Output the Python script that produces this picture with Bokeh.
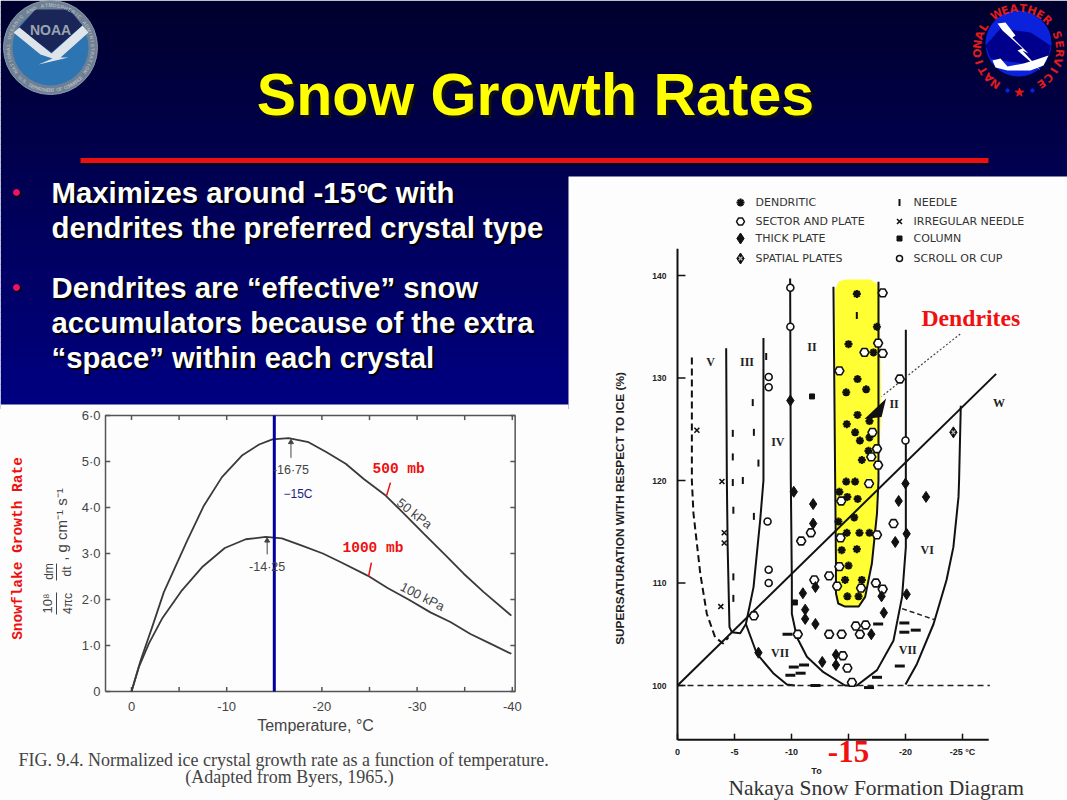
import numpy as np
from bokeh.plotting import figure
from bokeh.models import Range1d
from bokeh.core.properties import value
from bokeh.embed import file_html
from bokeh.resources import INLINE

# ---------- text content ----------
title = "Snow Growth Rates"
bullet_lines = ["Maximizes around -15", "dendrites the preferred crystal type",
                "Dendrites are \u201ceffective\u201d snow",
                "accumulators because of the extra",
                "\u201cspace\u201d within each crystal"]

# ---------- left chart: growth rate against temperature ----------
temp_500 = [0, -0.95, -2.17, -3.4, -5.85, -7.6, -9.5, -11.6, -13.4, -14.8, -16.5, -18.6, -20.5, -22.5, -24.4, -26.7, -28.8, -30.7, -33, -34.9, -37, -39.9]
rate_500 = [0, 0.67, 1.4, 2.16, 3.28, 4.04, 4.66, 5.13, 5.37, 5.48, 5.51, 5.42, 5.2, 4.95, 4.62, 4.26, 3.83, 3.43, 2.96, 2.56, 2.16, 1.65]
temp_1000 = [0, -0.77, -1.82, -3.2, -5.3, -7.4, -9.8, -12, -14.1, -15.8, -17.9, -20.1, -22, -24.8, -26.9, -29.1, -31.4, -33.5, -35.6, -37.7, -39.9]
rate_1000 = [0, 0.53, 1.04, 1.58, 2.2, 2.7, 3.12, 3.31, 3.36, 3.33, 3.17, 3.0, 2.81, 2.52, 2.25, 2.0, 1.72, 1.51, 1.25, 1.04, 0.82]
left_xticks = [0, -5, -10, -15, -20, -25, -30, -35, -40]
left_xlabels = {0: "0", -10: "-10", -20: "-20", -30: "-30", -40: "-40"}
left_yticks = [0, 1, 2, 3, 4, 5, 6]
left_ylabels = ["0", "1\u00b70", "2\u00b70", "3\u00b70", "4\u00b70", "5\u00b70", "6\u00b70"]
marked_temp = -15

# ---------- right chart: Nakaya diagram (temperature, supersaturation) ----------
dendritic = [(-15.73,138.2),(-17.49,135.0),(-15.0,133.3),(-17.19,132.5),(-15.79,129.9),(-16.55,128.9),(-14.8,128.6),
             (-15.79,126.4),(-16.84,125.8),(-14.85,125.5),(-15.58,124.7),(-16.0,123.9),(-16.84,124.2),(-16.75,122.9),
             (-16.17,122.0),(-14.8,119.9),(-15.58,119.9),(-14.2,118.9),(-14.9,118.4),(-15.8,118.2),(-14.12,116.0),
             (-15.5,116.4),(-14.85,114.9),(-15.96,114.9),(-16.84,114.9),(-14.4,113.2),(-15.73,113.3),(-15.0,111.7),
             (-14.7,110.3),(-16.17,110.3),(-14.9,108.7),(-15.88,108.7)]
needle = [(-15.73,136.1),(-6.6,127.6),(-4.85,124.6),(-6.7,124.7),(-4.85,122.3),(-7.1,121.7),(-4.85,119.8),(-5.73,120.0),
          (-7.78,132.1),(-4.9,117.1),(-6.7,116.5),(-4.9,110.6),(-4.9,108.5)]
irregular = [(-1.7,124.9),(-3.9,119.9),(-4.1,114.9),(-4.1,113.9),(-3.8,107.7)]
sector = [(-18.0,138.3),(-17.6,133.4),(-16.4,132.5),(-18.0,132.4),(-14.2,130.7),(-19.5,129.9),(-17.1,124.7),(-17.5,123.1),
          (-17.0,122.3),(-17.6,121.5),(-16.8,119.7),(-14.36,118),(-11.7,114.9),(-10.85,114.1),(-17.5,114.7),(-18.95,115.8),
          (-14.3,114.4),(-14.2,111.6),(-12,110.3),(-13.3,110.7),(-14,109.7),(-17.4,110),(-18,109.4),(-16.1,109.5),(-6.7,106.8),
          (-10.55,105),(-13.3,105),(-14.4,105),(-15.64,105.8),(-16.5,105.9),(-16,105),(-14.5,102.9),(-14.9,101.7),(-15.3,100.3)]
thick = [(-9.9,127.8),(-10.2,118.9),(-19.4,118),(-20,119.7),(-21.8,118.4),(-11.9,117.7),(-11.9,115.8),(-20.1,114.8),(-19.1,114),
         (-12.1,109.6),(-11,109),(-11.2,107.4),(-11.2,106.5),(-12.1,106),(-18.1,107.1),(-17.9,108.7),(-20.1,108.9),(-7.1,103.2),
         (-12.7,102.3),(-13.9,103),(-13.9,102),(-17,105)]
column = [(-11.8,128.2),(-10.3,108.1)]
dash_marks = [(-9.65,105),(-10.2,101.8),(-11.1,102),(-9.9,101),(-10.8,101.2),(-12.1,100),(-17.6,106),(-17.5,100.8),(-16.8,99.8),
              (-19.9,106.1),(-19.9,105.2),(-20.9,105.4),(-19.5,101.9)]
scroll = [(-9.9,138.8),(-9.9,135),(-20,123.9),(-7.9,116),(-8,111.3),(-8,110),(-8,130.1),(-8,129.1)]
spatial = [(-24.2,124.7)]

curve_v = [(-1.26,132),(-1.26,120),(-1.4,116.8),(-2,110.9),(-2.57,107),(-3.3,104.7),(-4,104.1),(-4.47,104.7)]
curve_iii = [(-4.27,132.9),(-4.33,120),(-4.4,113.5),(-4.56,105.7),(-4.77,105.2),(-5.5,105.1),(-6,106),(-6.67,109.6),(-7.25,116.1),(-7.54,120),(-7.54,133.9)]
curve_low = [(-6,106),(-6.96,103.1),(-8.4,101.2),(-9.6,100.1),(-10.3,100)]
curve_iv = [(-9.88,139.7),(-9.94,120),(-10.03,110.3),(-10.03,107),(-10.47,104.7),(-11.35,102.8),(-12.8,101.3),(-14.7,100),
            (-15.73,100),(-17.5,101.5),(-18.95,104.4),(-19.7,108.65),(-20.03,113.5),(-20.03,120),(-20.03,134.7)]
curve_vi = [(-24.85,127.3),(-24.7,120),(-24.65,118.4),(-24.2,113.5),(-23.6,110.3),(-22.46,106),(-21,102.1),(-20,100.1)]
curve_den = [(-13.68,138.9),(-13.83,120),(-13.9,111.9),(-13.9,109),(-14.1,108),(-14.7,107.7),(-15.9,107.7),(-16.46,108.65),
             (-17.05,111.9),(-17.5,116.8),(-17.63,120),(-17.63,139.4)]
yellow_zone = [(-13.83,138.6),(-14.12,139.4),(-14.7,139.6),(-16.9,139.6),(-17.49,139.2),(-17.72,138.2),(-17.87,126.5),(-17.72,123.3),
               (-17.55,120),(-17.49,116.8),(-17.19,113.5),(-16.75,110.3),(-16.46,108.65),(-16,107.7),(-14.7,107.7),(-14.12,108),(-13.89,109),(-13.83,120)]
water_line = [(0,100),(-27.95,130.4)]
sat_line = [(0,100),(-27.4,100)]
short_dash = [(-19.7,107.5),(-22.6,106.4)]
pointer = [(-24.8,134.3),(-17.9,128.2)]
pointer_head = [(-18.3,128.0),(-16.4,126.0),(-17.9,126.2)]
right_xticks = [0, -5, -10, -15, -20, -25]
right_xlabels = {0: "0", -5: "-5", -10: "-10", -20: "-20", -25: "-25 \u00b0C"}
right_yticks = [100, 110, 120, 130, 140]
legend_left = ["DENDRITIC", "SECTOR AND PLATE", "THICK PLATE", "SPATIAL PLATES"]
legend_right = ["NEEDLE", "IRREGULAR NEEDLE", "COLUMN", "SCROLL OR CUP"]
numerals = [("V",-2.9,131.6),("III",-6.1,131.6),("II",-11.8,133),("IV",-8.8,123.8),("II",-19.0,127.5),("VI",-21.9,113.2),("VII",-9,103.2),("VII",-20.2,103.5),("W",-28.2,127.6)]

# ---------- canvas in slide pixels ----------
W, H, M = 1067, 800, 0
p = figure(width=W-2*M, height=H-2*M, x_range=Range1d(M, W-M), y_range=Range1d(H-M, M),
           output_backend="svg", toolbar_location=None, min_border=0)
p.axis.visible = False
p.grid.visible = False
p.outline_line_color = None
p.background_fill_color = "#fdfdfd"
p.border_fill_color = None

def add_scale(name_x, name_y, x0, xk, y0, yk):
    p.extra_x_ranges[name_x] = Range1d((M-x0)/xk, (W-M-x0)/xk)
    p.extra_y_ranges[name_y] = Range1d((H-M-y0)/yk, (M-y0)/yk)
add_scale("lx", "ly", 131, -9.52, 691, -46.0)
add_scale("rx", "ry", 677, -11.4, 685+100*10.25, -10.25)
L = dict(x_range_name="lx", y_range_name="ly")
R = dict(x_range_name="rx", y_range_name="ry")

def T(x, y, s, size, color="#444444", font="Liberation Sans", style="normal", align="left", base="alphabetic", angle=0, dx=0, dy=0, **kw):
    if base == "alphabetic":
        dy = dy - 0.36*size
    p.text([x], [y], text=[s], text_font=value(font), text_font_size=f"{size}px", text_font_style=style, text_color=color,
           text_align=align, text_baseline=base, angle=angle, x_offset=dx, y_offset=dy, **kw)

def xy(pts):
    return [a for a, _ in pts], [b for _, b in pts]

# gradient background
edges = np.arange(0, 405, 6)
shade = np.interp(edges, [0, 404], [46, 130]).astype(int)
p.quad(left=0, right=W, top=edges, bottom=edges+6.5, fill_color=[f"#0000{s:02x}" for s in shade], line_color=None)

# white panels
p.quad(left=[0], right=[568], top=[404], bottom=[H], fill_color="#fdfdfd", line_color=None)
p.quad(left=[568], right=[W], top=[176], bottom=[H], fill_color="#fdfdfd", line_color=None)

# title and rule
T(538, 119, title, 59, "#111111", style="bold", align="center")
T(535, 116, title, 59, "#ffff00", style="bold", align="center")
p.line([80, 988], [162, 162], line_width=5, line_color="#000022")
p.line([80, 988], [160, 160], line_width=5, line_color="#ee1010")

# bullets
p.scatter([17, 17], [193, 288], size=7, color="#000000")
p.scatter([16, 16], [192, 287], size=6, color="#f0106a")
base_y = [203, 238, 298, 333, 368]
SZ = 29.3
for s, y in zip(bullet_lines, base_y):
    T(53, y+2, s, SZ, "#000000", style="bold")
    T(51, y, s, SZ, "#ffffff", style="bold")
T(359, 195, "o", 17, "#000000", style="bold"); T(357, 193, "o", 17, "#ffffff", style="bold")
T(368, 205, "C with", SZ, "#000000", style="bold"); T(366, 203, "C with", SZ, "#ffffff", style="bold")

# NOAA logo
p.circle([50], [47], radius=47, fill_color="#6f8094", line_color="#8a98a8")
p.circle([50], [47], radius=38, fill_color="#2c74b2", line_color=None)
p.patch([35, 69, 82, 51, 18], [9, 9, 25, 52, 28], fill_color="#1b2658", line_color=None)
p.patch([13, 19, 51, 82, 88, 60, 68, 38, 52, 40], [32, 27, 53, 25, 32, 57, 57, 64, 58, 54], fill_color="#dfe4ea", line_color=None)
T(50, 35, "NOAA", 14, "#9aa5b2", style="bold", align="center")
ring_a = "NATIONAL OCEANIC AND ATMOSPHERIC ADMINISTRATION"
for i, c in enumerate(ring_a):
    th = np.radians(-125 + 250*i/(len(ring_a)-1))
    T(50+42.5*np.sin(th), 47-42.5*np.cos(th), c, 5, "#aab4be", style="bold", align="center", base="middle", angle=-th)
ring_b = "U.S. DEPARTMENT OF COMMERCE"
for i, c in enumerate(ring_b):
    th = np.radians(225 - 90*i/(len(ring_b)-1))
    T(50+42.5*np.sin(th), 47-42.5*np.cos(th), c, 5, "#aab4be", style="bold", align="center", base="middle", angle=np.pi-th)

# NWS logo
p.circle([1018], [43], radius=33, fill_color="#0a22dc", line_color=None)
p.patch([985, 1000, 1030, 1050, 1048, 1030, 1000, 990], [45, 28, 32, 45, 58, 64, 60, 58], fill_color="#00008c", line_color=None)
bx = [997, 1005, 1015, 1012, 1028, 1022, 1040, 1017, 1022, 1002]
by = [23, 22, 35, 37, 53, 50, 70, 50, 48, 30]
p.patch(bx, by, fill_color="#ffffff", line_color=None)
p.patch([992, 1000, 1007, 1023, 1033, 1048, 1043, 1030, 1007, 995], [60, 58, 66, 63, 60, 55, 65, 70, 70, 67], fill_color="#ffffff", line_color=None)
p.scatter([1019], [92], marker="star", size=9, color="#e01818")
p.scatter([1007, 1032], [90, 90], size=3.5, color="#0a22dc")
ring_n = "NATIONAL WEATHER SERVICE"
for i, c in enumerate(ring_n):
    th = np.radians(-146 + 292*i/(len(ring_n)-1))
    T(1018+41*np.sin(th), 49-41*np.cos(th), c, 11, "#e01c1c", font="DejaVu Sans", style="bold", align="center", base="middle", angle=-th)

# ---- left chart ----
fr = dict(line_color="#555555", line_width=1.5)
fx0, fx1, fy0, fy1 = 2.73, -40.3, 0, 6
p.line([fx0, fx1, fx1, fx0, fx0], [fy0, fy0, fy1, fy1, fy0], **fr, **L)
p.segment(left_xticks, [0]*9, left_xticks, [0.1]*9, **fr, **L)
p.segment(left_xticks, [6]*9, left_xticks, [5.9]*9, **fr, **L)
p.segment([fx0]*7, left_yticks, [fx0-0.5]*7, left_yticks, **fr, **L)
p.segment([fx1]*7, left_yticks, [fx1+0.5]*7, left_yticks, **fr, **L)
p.line(temp_500, rate_500, line_color="#3a3a3a", line_width=1.8, **L)
p.line(temp_1000, rate_1000, line_color="#3a3a3a", line_width=1.8, **L)
p.line([marked_temp, marked_temp], [0, 6], line_color="#00009c", line_width=3, **L)
for v, s in zip(left_yticks, left_ylabels):
    T(fx0, v, s, 13, align="right", base="middle", dx=-5, **L)
for v, s in left_xlabels.items():
    T(v, 0, s, 13, align="center", base="middle", dy=15, **L)
T(315, 731, "Temperature, \u00b0C", 16, align="center")
T(18, 766, "FIG. 9.4. Normalized ice crystal growth rate as a function of temperature.", 18, font="Liberation Serif")
T(289, 783, "(Adapted from Byers, 1965.)", 18, font="Liberation Serif", align="center")
T(17, 548, "Snowflake Growth Rate", 14.5, "#ee1010", font="Liberation Mono", style="bold", align="center", base="middle", angle=np.pi/2)
lab = dict(base="middle", align="center", angle=np.pi/2)
T(47, 603, "10\u2078", 13, **lab); T(67, 603, "4\u03c0c", 12, **lab)
T(48, 571, "dm", 12, **lab); T(66, 571, "dt", 12, **lab)
p.line([56, 56], [592, 614], line_color="#444444"); p.line([56, 56], [563, 580], line_color="#444444")
T(61, 522, ",  g cm\u207b\u00b9 s\u207b\u00b9", 15, **lab)
for t0, v0, t1, v1 in [(-16.75, 5.08, -16.75, 5.42), (-14.25, 2.98, -14.25, 3.28)]:
    p.segment([t0], [v0], [t1], [v1], line_color="#444444", **L)
    p.scatter([t1], [v1], marker="triangle", size=5, color="#444444", **L)
T(-16.75, 4.97, "-16\u00b775", 12.5, align="center", base="top", **L)
T(-14.25, 2.85, "-14\u00b725", 12.5, align="center", base="top", **L)
T(283, 493, "\u221215C", 12, "#1c1c80", base="middle")
T(372, 474, "500 mb", 14.5, "#ee1010", font="Liberation Mono", style="bold")
T(342, 553, "1000 mb", 14.5, "#ee1010", font="Liberation Mono", style="bold")
p.segment([-27.2, -25.2], [4.54, 2.8], [-26.8, -24.9], [4.26, 2.5], line_color="#ee1010", line_width=1.5, **L)
T(414, 513, "50 kPa", 13, align="center", base="middle", angle=np.radians(-38))
T(422, 596, "100 kPa", 13, align="center", base="middle", angle=np.radians(-27))

# ---- right chart ----
x, y = xy(yellow_zone)
p.patch(x, y, fill_color="#ffff33", line_color=None, **R)
for c in [curve_iii, curve_low, curve_iv, curve_vi, curve_den]:
    x, y = xy(c)
    p.line(x, y, line_color="#111111", line_width=2, **R)
x, y = xy(curve_v)
p.line(x, y, line_color="#111111", line_width=2, line_dash="7 4", **R)
x, y = xy(water_line)
p.line(x, y, line_color="#111111", line_width=2, **R)
x, y = xy(sat_line)
p.line(x, y, line_color="#222222", line_width=1.5, line_dash="6 4", **R)
x, y = xy(short_dash)
p.line(x, y, line_color="#222222", line_width=1.5, line_dash="5 3", **R)
x, y = xy(pointer)
p.line(x, y, line_color="#444444", line_width=1.2, line_dash="2 2", **R)
x, y = xy(pointer_head)
p.patch(x, y, fill_color="#111111", line_color=None, **R)

ax = dict(line_color="#111111", line_width=2)
p.line([0, 0], [94.7, 142.6], **ax, **R)
p.line([0, -27.3], [94.7, 94.7], **ax, **R)
p.segment([0]*5, right_yticks, [-0.7]*5, right_yticks, line_color="#111111", line_width=1.5, **R)
p.segment(right_xticks, [94.7]*6, right_xticks, [95.3]*6, line_color="#111111", line_width=1.5, **R)
for v in right_yticks:
    T(0, v, str(v), 8.5, "#222222", style="bold", align="right", base="middle", dx=-11, **R)
for v, s in right_xlabels.items():
    T(v, 94.7, s, 9, "#222222", style="bold", align="center", base="middle", dy=12, **R)
T(-15, 94.7, "-15", 31, "#f01010", font="Liberation Serif", style="bold", align="center", base="alphabetic", dy=23, **R)
T(816, 770, "To", 9, "#222222", style="bold", align="center", base="middle")
T(728, 795, "Nakaya Snow Formation Diagram", 21.5, "#333333", font="Liberation Serif")
T(921, 326, "Dendrites", 23.7, "#f01010", font="Liberation Serif", style="bold")
T(619, 508, "SUPERSATURATION WITH RESPECT TO ICE (%)", 11.8, "#222222", style="bold", align="center", base="middle", angle=np.pi/2)
for s, a, b in numerals:
    T(a, b, s, 12, "#222222", font="Liberation Serif", style="bold", align="center", base="middle", **R)

def scat(pts, marker, size, fill="#111111", line="#111111", lw=1.0, angle=0.0):
    x, y = xy(pts)
    p.scatter(x, y, marker=marker, size=size, fill_color=fill, line_color=line, line_width=lw, angle=angle, **R)

scat(dendritic, "asterisk", 8, lw=2.2)
scat(dendritic, "circle", 3)
scat(sector, "hex", 9, fill="#ffffff", lw=1.6)
scat(thick, "diamond", 11)
scat(needle, "dash", 7, lw=2, angle=np.pi/2)
scat(irregular, "x", 7, lw=1.6)
scat(column, "square", 5)
scat(dash_marks, "dash", 10, lw=3)
scat(scroll, "circle", 7, fill="#ffffff", lw=1.6)
scat(spatial, "diamond", 11)
scat(spatial, "x", 5, line="#bbbbbb", lw=1.3)

# legend
leg_y = [202, 221, 238, 258]
p.scatter([740], [leg_y[0]], marker="asterisk", size=8, line_color="#111111", line_width=2.2)
p.scatter([740], [leg_y[1]], marker="hex", size=8, fill_color="#ffffff", line_color="#111111", line_width=1.5)
p.scatter([740], [leg_y[2]], marker="diamond", size=11, color="#111111")
p.scatter([740], [leg_y[3]], marker="diamond", size=11, color="#111111")
p.scatter([740], [leg_y[3]], marker="x", size=5, line_color="#bbbbbb", line_width=1.3)
p.scatter([899], [leg_y[0]], marker="dash", size=7, angle=np.pi/2, line_color="#111111", line_width=2)
p.scatter([899], [leg_y[1]], marker="x", size=7, line_color="#111111", line_width=1.6)
p.scatter([899], [leg_y[2]], marker="square", size=5, color="#111111")
p.scatter([899], [leg_y[3]], marker="circle", size=6, fill_color="#ffffff", line_color="#111111", line_width=1.5)
for s, b in zip(legend_left, leg_y):
    T(755, b, s, 11, "#333333", font="DejaVu Sans", base="middle")
for s, b in zip(legend_right, leg_y):
    T(913, b, s, 11, "#333333", font="DejaVu Sans", base="middle")

open("out.html", "w").write(file_html(p, INLINE))
